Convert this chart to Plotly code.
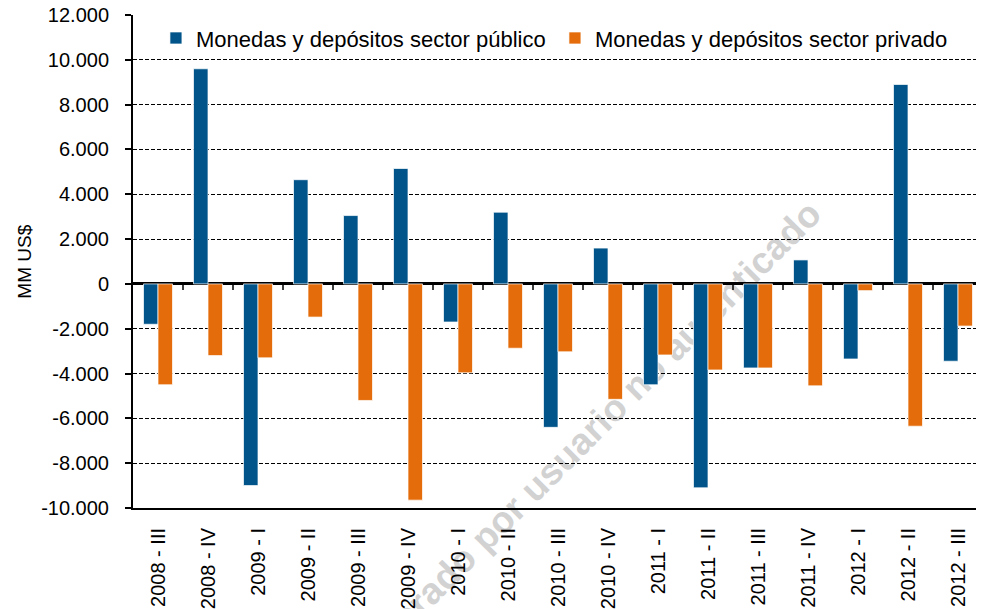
import plotly.graph_objects as go

categories = ["2008 - III", "2008 - IV", "2009 - I", "2009 - II", "2009 - III", "2009 - IV",
              "2010 - I", "2010 - II", "2010 - III", "2010 - IV", "2011 - I", "2011 - II",
              "2011 - III", "2011 - IV", "2012 - I", "2012 - II", "2012 - III"]
publico = [-1800, 9600, -9000, 4650, 3050, 5150, -1700, 3200, -6400, 1600, -4500, -9100,
           -3750, 1070, -3350, 8900, -3450]
privado = [-4500, -3200, -3300, -1480, -5200, -9650, -3970, -2870, -3030, -5150, -3170, -3840,
           -3750, -4550, -300, -6350, -1880]
series_names = ["Monedas y depósitos sector público", "Monedas y depósitos sector privado"]
tick_vals = list(range(-10000, 12001, 2000))
tick_text = [f"{v:,}".replace(",", ".") for v in tick_vals]

FONT = "Liberation Sans, Arial, sans-serif"

fig = go.Figure()
fig.add_trace(go.Bar(x=categories, y=publico, name=series_names[0],
                     marker=dict(color="#00548A", line=dict(color="rgba(255,255,255,0.7)", width=1))))
fig.add_trace(go.Bar(x=categories, y=privado, name=series_names[1],
                     marker=dict(color="#E46C0A", line=dict(color="rgba(255,255,255,0.7)", width=1))))

shapes = []
# small tick marks on the zero line between categories
for i in range(len(categories)):
    shapes.append(dict(type="line", xref="x", yref="y", x0=i + 0.5, x1=i + 0.5,
                       ysizemode="pixel", yanchor=0, y0=0, y1=-6,
                       line=dict(color="black", width=1.5), layer="above"))
# watermark
shapes.append(dict(type="rect", xref="paper", yref="paper", x0=0.523, x1=0.525, y0=0.141, y1=0.143,
                   line=dict(width=0), fillcolor="rgba(0,0,0,0)", layer="below",
                   label=dict(text="Generado por usuario no autenticado", textangle=-45,
                              textposition="middle center",
                              font=dict(size=37, color="#d2d2d2", family=FONT, weight="bold"))))

fig.update_layout(
    width=976, height=601,
    margin=dict(l=125, r=1, t=7, b=101),
    paper_bgcolor="rgba(0,0,0,0)", plot_bgcolor="rgba(0,0,0,0)",
    font=dict(family=FONT, color="black", size=20),
    barmode="group", bargap=0.42, bargroupgap=0,
    showlegend=True,
    legend=dict(orientation="h", x=0.027, xanchor="left", y=0.953, yanchor="middle",
                font=dict(size=22, family=FONT, color="black"),
                bgcolor="rgba(0,0,0,0)", borderwidth=0,
                entrywidth=354, entrywidthmode="pixels", traceorder="normal"),
    shapes=shapes,
    annotations=[dict(text="MM US$", xref="paper", yref="paper", x=-0.128, y=0.5,
                      xanchor="center", yanchor="middle", textangle=-90, showarrow=False,
                      font=dict(size=19, family=FONT, color="black"))],
)
fig.update_xaxes(type="category", range=[-0.5, len(categories) - 0.5], tickangle=-90,
                 automargin=False,
                 showline=True, linecolor="black", linewidth=2, ticks="",
                 showgrid=False, ticklabelstandoff=10, tickfont=dict(size=20))
fig.update_yaxes(range=[-10000, 12000], tickvals=tick_vals, ticktext=tick_text,
                 ticklabeloverflow="allow", automargin=False,
                 showline=True, linecolor="black", linewidth=2,
                 ticks="outside", ticklen=6, tickcolor="black", tickwidth=1.5,
                 showgrid=True, gridcolor="black", gridwidth=1, griddash="4px,2px",
                 zeroline=True, zerolinecolor="black", zerolinewidth=2.5,
                 ticklabelstandoff=12, tickfont=dict(size=20))

fig.write_html("out.html")
